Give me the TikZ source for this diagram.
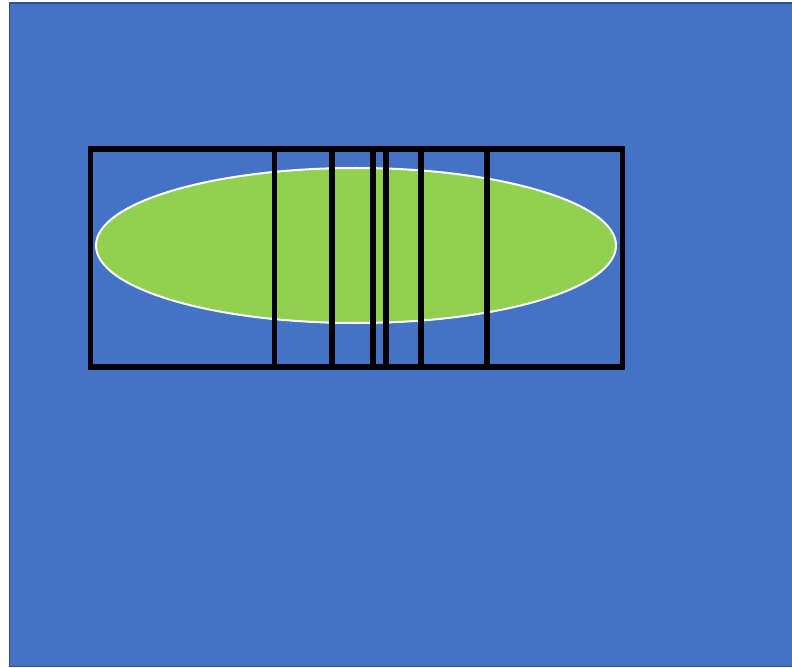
\documentclass[tikz,border=0pt]{standalone}
\definecolor{bgblue}{HTML}{4472C4}
\definecolor{edgeblue}{HTML}{2F528F}
\definecolor{leaf}{HTML}{92D050}
\tikzset{
  frame/.style={draw=black, line width=5.5pt},
  divider/.style={draw=black, line width=5.5pt},
}
\begin{document}
\begin{tikzpicture}[x=1pt,y=-1pt]
\useasboundingbox (0,0) rectangle (792,668);
\fill[white] (0,0) rectangle (792,668);
\filldraw[fill=bgblue, draw=edgeblue, line width=1.2pt] (9.8,3) rectangle (796,666.5);
\filldraw[fill=leaf, draw=white, line width=2pt] (356,245.5) ellipse [x radius=260, y radius=77.5];
\draw[frame] (90.3,149) rectangle (622.3,367);
\foreach \x in {274.5,332,373,386,421,487}
  \draw[divider] (\x,149) -- (\x,367);
\end{tikzpicture}
\end{document}
